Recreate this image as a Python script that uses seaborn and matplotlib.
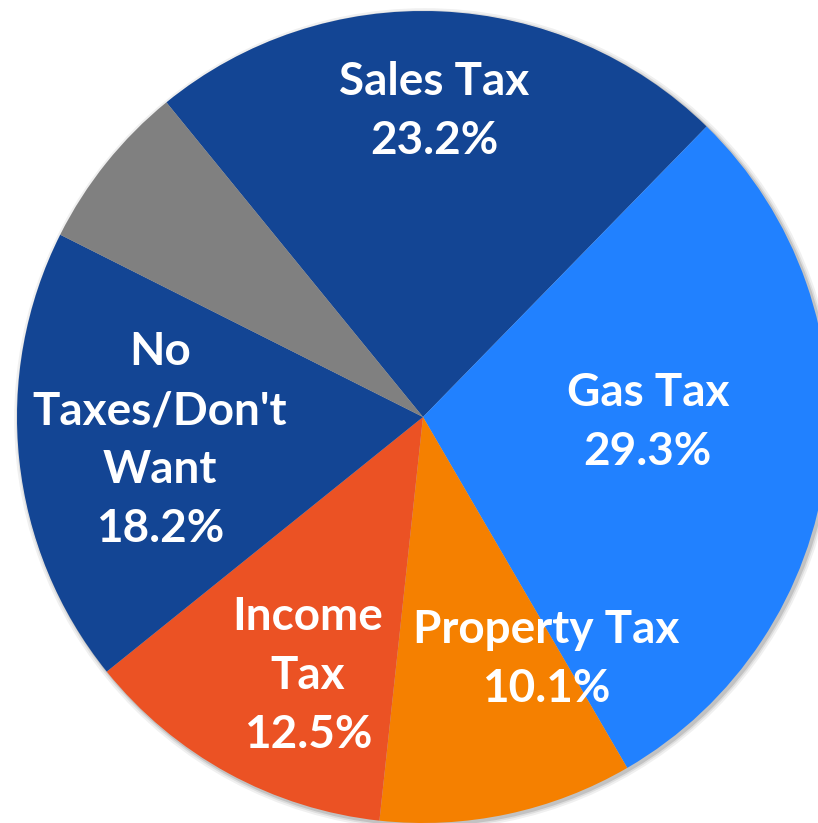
import numpy as np
import matplotlib
matplotlib.use("Agg")
import matplotlib.pyplot as plt
import seaborn as sns

# data (clockwise from the top-left)
categories = ["Sales Tax", "Gas Tax", "Property Tax", "Income\nTax", "No\nTaxes/Don't\nWant", ""]
shares = [23.2, 29.3, 10.1, 12.5, 18.2, 6.7]
colors = ["#134594", "#2181FF", "#F58000", "#EB5224", "#134594", "#808080"]

# label placement: fraction of radius and angle shift (deg) from the wedge middle
label_r = [0.752, 0.554, 0.67, 0.699, 0.65, 0.0]
label_shift = [0.5, 5.7, 14.8, 4.7, -0.9, 0.0]

sns.set_style("white")
plt.rcParams["font.family"] = ["Lato", "DejaVu Sans"]

fig = plt.figure(figsize=(8.18, 8.23), dpi=100)
ax = fig.add_axes([0, 0, 1, 1])

# soft shadow under the pie
for k, a in zip([1.012, 1.007, 1.003], [0.06, 0.08, 0.12]):
    ax.add_patch(plt.Circle((0.005, -0.005), k, color="black", alpha=a, lw=0, zorder=0))

wedges, _ = ax.pie(shares, colors=colors, startangle=129.2, counterclock=False,
                   radius=1.0, wedgeprops=dict(linewidth=0))
for w in wedges:
    w.set_zorder(2)

for w, name, val, r, sh in zip(wedges, categories, shares, label_r, label_shift):
    if not name:
        continue
    mid = np.deg2rad((w.theta1 + w.theta2) / 2 + sh)
    ax.text(r * np.cos(mid), r * np.sin(mid), f"{name}\n{val:.1f}%",
            ha="center", va="center", color="white", fontsize=33,
            fontweight="bold", linespacing=1.5, zorder=3)

# pie centre at (423, 417) px, radius 406 px
R = 406.0
ax.set_xlim(-423 / R, (818 - 423) / R)
ax.set_ylim(-(823 - 417) / R, 417 / R)
ax.set_aspect("equal")
ax.axis("off")

fig.savefig("out.png", dpi=100)
